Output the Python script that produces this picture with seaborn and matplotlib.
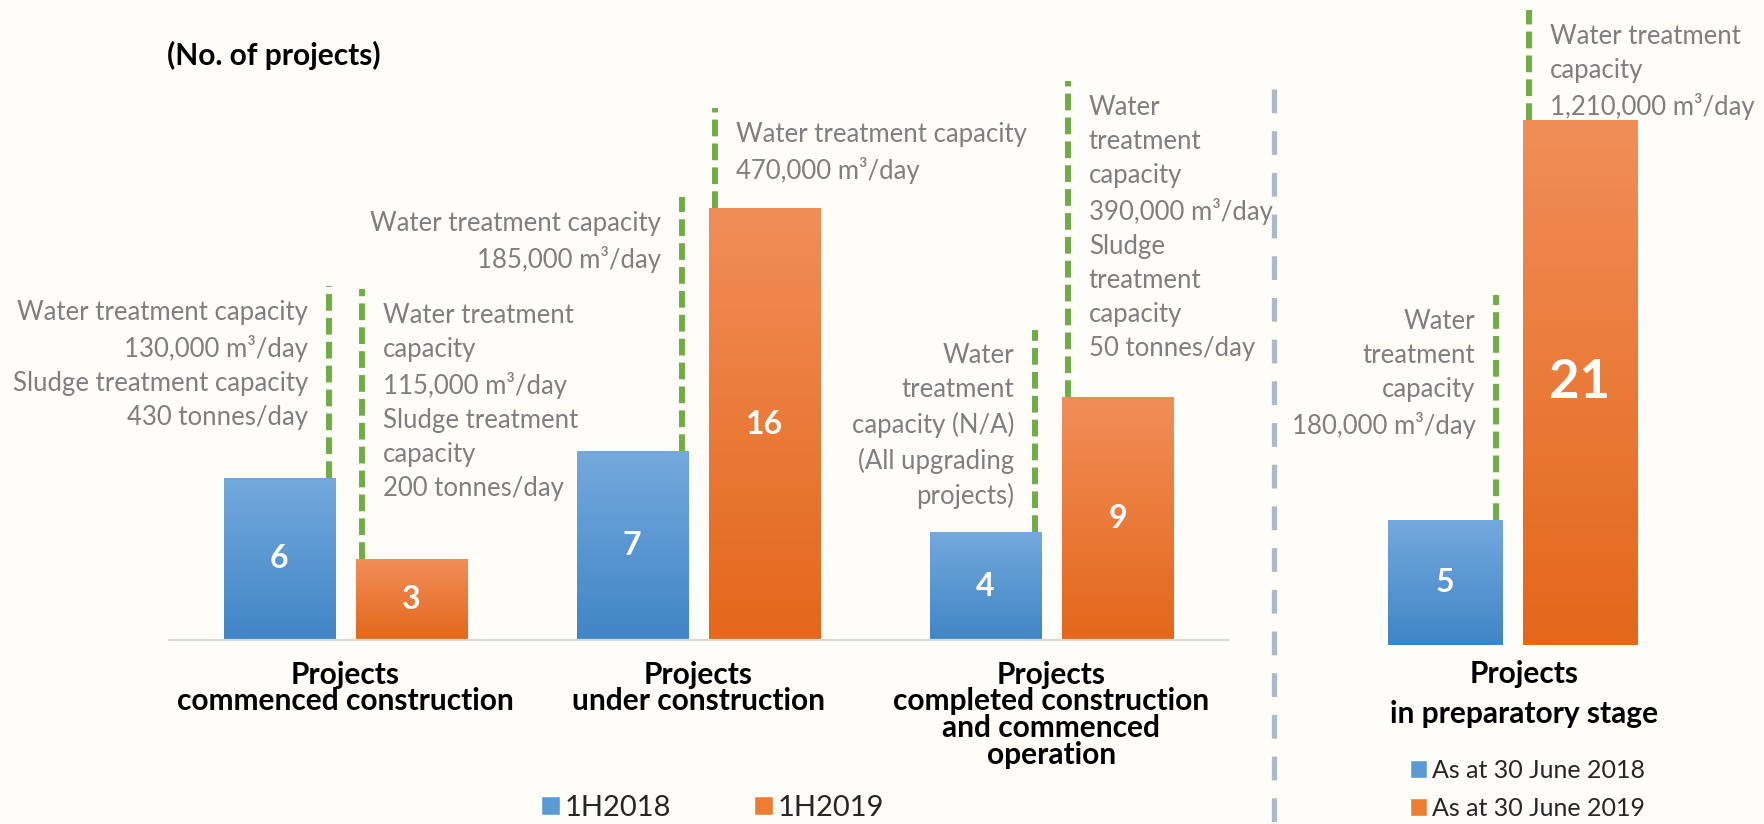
"""
Sewage treatment projects: 1H2018 vs 1H2019 (grouped bars with leader notes).
"""
import numpy as np
import pandas as pd
import matplotlib
matplotlib.use("Agg")
import matplotlib.pyplot as plt
import matplotlib.transforms as mtransforms
from matplotlib.colors import LinearSegmentedColormap
from matplotlib.lines import Line2D
from matplotlib.patches import Patch
import seaborn as sns

# --- data ---
stages = ["Projects\ncommenced construction",
          "Projects\nunder construction",
          "Projects\ncompleted construction\nand commenced\noperation"]
periods = ["1H2018", "1H2019"]
count_1h2018 = [6, 7, 4]
count_1h2019 = [3, 16, 9]

prep_stage = ["Projects\nin preparatory stage"]
prep_dates = ["As at 30 June 2018", "As at 30 June 2019"]
prep_2018 = [5]
prep_2019 = [21]

notes_2018 = ["Water treatment capacity\n130,000 m\u00b3/day\nSludge treatment capacity\n430 tonnes/day",
              "Water treatment capacity\n185,000 m\u00b3/day",
              "Water\ntreatment\ncapacity (N/A)\n(All upgrading\nprojects)"]
notes_2019 = ["Water treatment\ncapacity\n115,000 m\u00b3/day\nSludge treatment\ncapacity\n200 tonnes/day",
              "Water treatment capacity\n470,000 m\u00b3/day",
              "Water\ntreatment\ncapacity\n390,000 m\u00b3/day\nSludge\ntreatment\ncapacity\n50 tonnes/day"]
prep_notes_2018 = ["Water\ntreatment\ncapacity\n180,000 m\u00b3/day"]
prep_notes_2019 = ["Water treatment\ncapacity\n1,210,000 m\u00b3/day"]

# where each dashed leader line ends (in "number of projects" units)
leader_2018 = [13.1, 16.4, 11.5]
leader_2019 = [13.0, 19.7, 20.7]
prep_leader_2018 = [14.0]
prep_leader_2019 = [25.4]

BLUE = ("#74A9DD", "#4085C6")      # top, bottom of gradient
ORANGE = ("#F18E58", "#E4671A")
GREEN = "#70AD47"
NOTE_GREY = "#7F7F7F"
BG = "#FFFDF7"

W, H = 1765, 824


def gradient_fill(ax, bars, colors):
    cmap = LinearSegmentedColormap.from_list("bar", [colors[1], colors[0]])
    grad = np.linspace(0, 1, 256).reshape(-1, 1)
    for bar in bars:
        x, y = bar.get_x(), bar.get_y()
        w, h = bar.get_width(), bar.get_height()
        im = ax.imshow(grad, cmap=cmap, origin="lower", aspect="auto",
                       extent=[x, x + w, y, y + h], zorder=bar.get_zorder() + 0.1)
        im.set_clip_path(bar)


def add_leaders(ax, bars, tops, notes, side, inset):
    for bar, top, note in zip(bars, tops, notes):
        if side == "left":
            x = bar.get_x() + bar.get_width() - inset
            off, ha = -15, "right"
        else:
            x = bar.get_x() + inset
            off, ha = 15, "left"
        ax.plot([x, x], [bar.get_height(), top], color=GREEN, lw=4.3,
                dashes=(2.8, 1.2), clip_on=False, zorder=1)
        ax.annotate(note, xy=(x, top), xytext=(off, -10), textcoords="offset points",
                    ha=ha, va="top", color=NOTE_GREY, fontsize=18.5, linespacing=1.45,
                    annotation_clip=False)


sns.set_theme(style="white")
plt.rcParams["font.family"] = ["Lato", "DejaVu Sans"]

fig = plt.figure(figsize=(W / 100, H / 100), dpi=100, facecolor=BG)

# --- main panel ---
ax = fig.add_axes([169 / W, 184 / H, 1059 / W, 22 * 27 / H])
df = pd.DataFrame({
    "stage": stages * 2,
    "count": count_1h2018 + count_1h2019,
    "period": [periods[0]] * 3 + [periods[1]] * 3,
})
sns.barplot(data=df, x="stage", y="count", hue="period", palette=[BLUE[1], ORANGE[1]],
            width=0.75, gap=0.16, saturation=1, errorbar=None, legend=False, ax=ax)
for cont, cols in zip(ax.containers, [BLUE, ORANGE]):
    gradient_fill(ax, cont, cols)
    ax.bar_label(cont, label_type="center", color="white", fontweight="bold", fontsize=23)
add_leaders(ax, ax.containers[0], leader_2018, notes_2018, "left", 0.017)
add_leaders(ax, ax.containers[1], leader_2019, notes_2019, "right", 0.017)
ax.set_xlim(-0.5, 2.5)
ax.set_ylim(0, 22)

# --- preparatory stage panel ---
ax2 = fig.add_axes([1333 / W, 179 / H, 359 / W, 24 * 25 / H])
df2 = pd.DataFrame({
    "stage": prep_stage * 2,
    "count": prep_2018 + prep_2019,
    "period": prep_dates,
})
sns.barplot(data=df2, x="stage", y="count", hue="period", palette=[BLUE[1], ORANGE[1]],
            width=0.75, gap=0.15, saturation=1, errorbar=None, legend=False, ax=ax2)
for cont, cols, fs in zip(ax2.containers, [BLUE, ORANGE], [23, 38]):
    gradient_fill(ax2, cont, cols)
    ax2.bar_label(cont, label_type="center", color="white", fontweight="bold", fontsize=fs)
add_leaders(ax2, ax2.containers[0], prep_leader_2018, prep_notes_2018, "left", 0.017)
add_leaders(ax2, ax2.containers[1], prep_leader_2019, prep_notes_2019, "right", 0.017)
ax2.set_xlim(-0.5, 0.5)
ax2.set_ylim(0, 24)

for a, pad, ls in [(ax, 15, 0.94), (ax2, 11, 1.5)]:
    a.set_facecolor("none")
    a.set_xlabel("")
    a.set_ylabel("")
    a.set_yticks([])
    a.tick_params(axis="x", length=0, pad=pad, labelsize=21.5, labelcolor="black")
    for lbl in a.get_xticklabels():
        lbl.set_fontweight("bold")
        lbl.set_linespacing(ls)
    for s in a.spines.values():
        s.set_visible(False)

ax.spines["bottom"].set_visible(True)
ax.spines["bottom"].set_color("#D9D9D9")
ax.spines["bottom"].set_linewidth(1.6)

shift = mtransforms.ScaledTranslation(12 / 100, 0, fig.dpi_scale_trans)
for lbl in ax2.get_xticklabels():
    lbl.set_transform(lbl.get_transform() + shift)

# divider between the two panels
fig.add_artist(Line2D([1274 / W, 1274 / W], [1 - 89 / H, 0], transform=fig.transFigure,
                      color="#ADB9CA", lw=3.8, dashes=(4.5, 3.4)))

fig.text(167 / W, 1 - 55 / H, "(No. of projects)", fontsize=21.5, fontweight="bold",
         ha="left", va="center", color="black")

# legends
fig.legend(handles=[Patch(facecolor="#5B9BD5"), Patch(facecolor="#ED7D31")], labels=periods,
           loc="center left", bbox_to_anchor=(541 / W, 1 - 808 / H), ncol=2, frameon=False,
           fontsize=21, handlelength=0.65, handleheight=0.65, handletextpad=0.15,
           columnspacing=2.85, borderpad=0, borderaxespad=0)
fig.legend(handles=[Patch(facecolor="#5B9BD5"), Patch(facecolor="#ED7D31")], labels=prep_dates,
           loc="center left", bbox_to_anchor=(1410 / W, 1 - 789 / H), ncol=1, frameon=False,
           fontsize=18, handlelength=0.7, handleheight=0.7, handletextpad=0.2,
           labelspacing=0.6, borderpad=0, borderaxespad=0)

fig.savefig("out.png", dpi=100, facecolor=BG)
